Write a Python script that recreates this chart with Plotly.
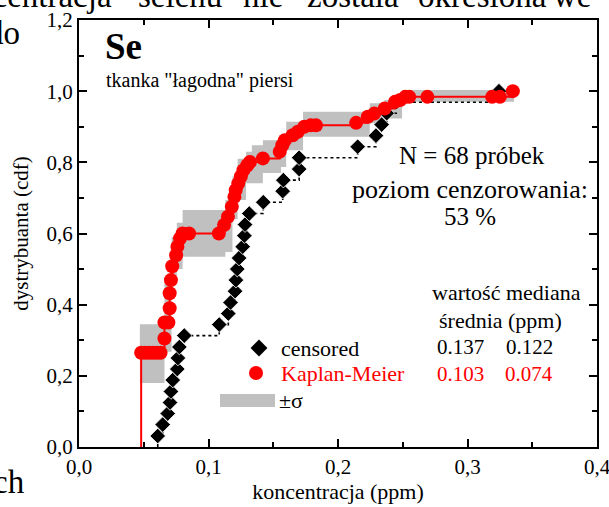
import plotly.graph_objects as go

# ---------------- data ----------------
cens_x = [0.0608, 0.0646, 0.0685, 0.0703, 0.0710, 0.0724, 0.0759, 0.0764, 0.0775, 0.0813,
          0.1083, 0.1153, 0.1170, 0.1205, 0.1212, 0.1222, 0.1236, 0.1264, 0.1277, 0.1282,
          0.1315, 0.1423, 0.1573, 0.1578, 0.1700, 0.1700, 0.2152, 0.2293, 0.2337, 0.2376,
          0.2450, 0.3243]
cens_y = [0.031, 0.063, 0.094, 0.125, 0.156, 0.188, 0.219, 0.250, 0.281, 0.313,
          0.344, 0.375, 0.406, 0.438, 0.469, 0.500, 0.531, 0.563, 0.594, 0.625,
          0.656, 0.688, 0.719, 0.750, 0.781, 0.813, 0.844, 0.875, 0.906, 0.938,
          0.969, 1.000]

km_x = [0.048, 0.051, 0.054, 0.057, 0.060, 0.063,
        0.066, 0.066, 0.069, 0.070, 0.070, 0.071, 0.072, 0.075, 0.076, 0.078,
        0.080, 0.085, 0.108, 0.112, 0.115, 0.118, 0.120, 0.121, 0.123, 0.125,
        0.127, 0.130, 0.132, 0.142, 0.155, 0.157, 0.159, 0.165, 0.169, 0.174,
        0.179, 0.183, 0.214, 0.223, 0.228, 0.236, 0.244, 0.248,
        0.252, 0.255, 0.269, 0.319, 0.325, 0.335]
km_y = [0.265, 0.265, 0.265, 0.265, 0.265, 0.265,
        0.305, 0.350, 0.350, 0.390, 0.432, 0.469, 0.508, 0.539, 0.563, 0.586,
        0.600, 0.600, 0.600, 0.624, 0.647, 0.675, 0.703, 0.722, 0.741, 0.760,
        0.778, 0.792, 0.801, 0.811, 0.830, 0.848, 0.862, 0.876, 0.886, 0.900,
        0.904, 0.904, 0.911, 0.928, 0.937, 0.951, 0.970, 0.975,
        0.984, 0.984, 0.984, 0.984, 0.984, 1.000]

band_x = [0.047, 0.066, 0.0715, 0.0755, 0.080, 0.113, 0.1185, 0.1225, 0.129, 0.1335,
          0.142, 0.156, 0.160, 0.173, 0.2245, 0.236, 0.2495, 0.336]
band_lo = [0.180, 0.268, 0.460, 0.500, 0.535, 0.548, 0.640, 0.694, 0.741, 0.741,
           0.770, 0.787, 0.834, 0.872, 0.910, 0.923, 0.970, 0.970]
band_hi = [0.345, 0.460, 0.590, 0.630, 0.666, 0.694, 0.760, 0.810, 0.830, 0.848,
           0.862, 0.880, 0.914, 0.942, 0.966, 0.975, 1.003, 1.003]

x_ticks = [0.0, 0.1, 0.2, 0.3, 0.4]
x_tick_labels = ["0,0", "0,1", "0,2", "0,3", "0,4"]
x_minor = [0.05, 0.15, 0.25, 0.35]
y_ticks = [0.0, 0.2, 0.4, 0.6, 0.8, 1.0, 1.2]
y_tick_labels = ["0,0", "0,2", "0,4", "0,6", "0,8", "1,0", "1,2"]
y_minor = [0.1, 0.3, 0.5, 0.7, 0.9, 1.1]

# ---------------- figure ----------------
FONT = "Liberation Serif"
W, H = 609, 507
ML, MR, MT, MB = 79, 12, 20, 60
PW, PH = W - ML - MR, H - MT - MB

def px(x):
    return (x - ML) / PW

def py(y):
    return (H - MB - y) / PH

fig = go.Figure()

# sigma band
fig.add_trace(go.Scatter(x=band_x, y=band_lo, mode="lines", line=dict(width=0, shape="hv"),
                         hoverinfo="skip", showlegend=False))
fig.add_trace(go.Scatter(x=band_x, y=band_hi, mode="lines", line=dict(width=0, shape="hv"),
                         fill="tonexty", fillcolor="#c0c0c0", hoverinfo="skip", showlegend=False))

# censored (empirical) step, dotted
fig.add_trace(go.Scatter(x=[cens_x[0]] + cens_x, y=[0] + cens_y, mode="lines",
                         line=dict(color="black", width=1.6, dash="dot", shape="hv"),
                         showlegend=False))
fig.add_trace(go.Scatter(x=cens_x, y=cens_y, mode="markers",
                         marker=dict(symbol="diamond", size=12, color="black",
                                     line=dict(color="white", width=0.8)),
                         showlegend=False))

# Kaplan-Meier step, solid red
fig.add_trace(go.Scatter(x=[km_x[0]] + km_x, y=[0] + km_y, mode="lines",
                         line=dict(color="red", width=2, shape="hv"), showlegend=False))
fig.add_trace(go.Scatter(x=km_x, y=km_y, mode="markers",
                         marker=dict(symbol="circle", size=14, color="red"),
                         showlegend=False))

# legend symbols on an overlay axis (0..1 in plot area)
fig.add_trace(go.Scatter(x=[px(259)], y=[py(348)], xaxis="x2", yaxis="y2", mode="markers",
                         marker=dict(symbol="diamond", size=13, color="black"), showlegend=False))
fig.add_trace(go.Scatter(x=[px(256)], y=[py(373)], xaxis="x2", yaxis="y2", mode="markers",
                         marker=dict(symbol="circle", size=14, color="red"), showlegend=False))

axis_common = dict(showline=True, linecolor="black", linewidth=2, mirror="allticks",
                   ticks="inside", ticklen=8, tickwidth=1.5, tickcolor="black",
                   showgrid=False, zeroline=False, automargin=False,
                   ticklabeloverflow="allow",
                   tickfont=dict(family=FONT, size=21, color="black"))

fig.update_layout(
    width=W, height=H,
    margin=dict(l=ML, r=MR, t=MT, b=MB, autoexpand=False),
    paper_bgcolor="white", plot_bgcolor="white",
    font=dict(family=FONT, color="black"),
    xaxis=dict(range=[0, 0.4], tickmode="array", tickvals=x_ticks, ticktext=x_tick_labels,
               minor=dict(tickvals=x_minor, ticklen=5, tickwidth=1.5, tickcolor="black", ticks="inside"),
               title=dict(text="koncentracja (ppm)", font=dict(family=FONT, size=22), standoff=0),
               **axis_common),
    yaxis=dict(range=[0, 1.2], tickmode="array", tickvals=y_ticks, ticktext=y_tick_labels,
               minor=dict(tickvals=y_minor, ticklen=5, tickwidth=1.5, tickcolor="black", ticks="inside"),
               title=dict(text="dystrybuanta (cdf)", font=dict(family=FONT, size=21), standoff=12),
               **axis_common),
    xaxis2=dict(range=[0, 1], overlaying="x", visible=False, anchor="y2"),
    yaxis2=dict(range=[0, 1], overlaying="y", visible=False, anchor="x2"),
)

# legend ±sigma swatch
fig.add_shape(type="rect", xref="paper", yref="paper",
              x0=px(220), x1=px(275), y0=py(407), y1=py(394),
              fillcolor="#c0c0c0", line=dict(width=0))

def ann(text, x, y, size, xanchor="center", color="black", bold=False, yanchor="middle"):
    if bold:
        text = "<b>" + text + "</b>"
    fig.add_annotation(text=text, x=px(x), y=py(y), xref="paper", yref="paper",
                       xanchor=xanchor, yanchor=yanchor, showarrow=False, borderpad=0,
                       font=dict(family=FONT, size=size, color=color))

ann("Se", 104, 47, 37, xanchor="left", bold=True)
ann("tkanka \"łagodna\" piersi", 105, 80, 20, xanchor="left")
ann("N = 68 próbek", 472, 155, 25)
ann("poziom cenzorowania:", 470, 189, 26)
ann("53 %", 470, 217, 25)
ann("wartość mediana", 506, 292, 22)
ann("średnia (ppm)", 500, 320, 22)
ann("0.137", 460, 347, 21)
ann("0.122", 529, 347, 21)
ann("0.103", 460, 374, 21, color="red")
ann("0.074", 529, 374, 21, color="red")
ann("censored", 280, 348, 22, xanchor="left")
ann("Kaplan-Meier", 280, 373, 22, xanchor="left", color="red")
ann("±σ", 278, 400, 22, xanchor="left")

# surrounding document text (cropped by the page edge)
for word, cx in [("koncentracja", None), ("selenu", 180), ("nie", 263), ("została", 353),
                 ("określona", 482), ("we", 572)]:
    if cx is None:
        ann(word, 113, 15, 33, xanchor="right", yanchor="bottom")
    else:
        ann(word, cx, 15, 33, yanchor="bottom")
ann("do", 21, 33, 33, xanchor="right")
ann("ch", 26, 482, 33, xanchor="right")

fig.write_html("out.html", config={"displayModeBar": False},
               post_script="document.body.style.margin='0';")
